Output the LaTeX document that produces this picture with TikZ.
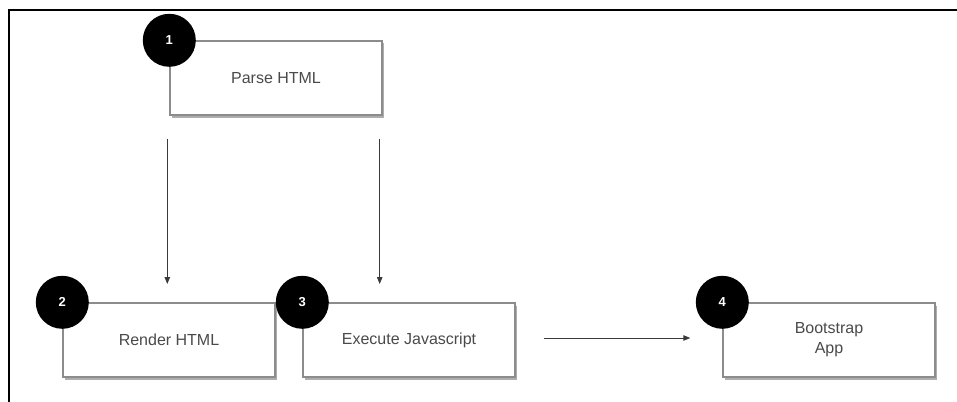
\documentclass[tikz,border=0pt]{standalone}
\usepackage{fontspec}
\setmainfont{Liberation Sans}
\usetikzlibrary{shadows,arrows.meta,calc}
\definecolor{edge}{HTML}{8C8C8C}
\definecolor{ink}{HTML}{3A3A3A}
\definecolor{label}{HTML}{4A4A4A}
\tikzset{
  stagebox/.style={draw=edge, line width=1.4pt, fill=white,
    minimum width=212pt, minimum height=74pt, inner sep=0pt,
    align=center, text=label, font=\fontsize{16}{20}\selectfont,
    drop shadow={shadow xshift=1.5pt, shadow yshift=-2.5pt, opacity=0.45, fill=black!70}},
  badge/.style={circle, fill=black, minimum size=53pt, inner sep=0pt,
    text=white, font=\fontsize{13}{14}\selectfont\bfseries},
  flow/.style={draw=ink, line width=0.9pt, -{Triangle[length=7pt,width=5.5pt]}},
}
\begin{document}
\begin{tikzpicture}[x=1pt,y=-1pt]
  \useasboundingbox (0,0) rectangle (957,401);
  % page frame, open at the right and bottom
  \draw[line width=2.6pt, line cap=rect] (9,401) -- (9,10) -- (957,10);

  % stages
  \node[stagebox] (parse)  at (276,78)  {Parse HTML};
  \node[stagebox] (render) at (169,340) {Render HTML};
  \node[stagebox] (exec)   at (409,340) {Execute Javascript};
  \node[stagebox] (boot)   at (829,340) {Bootstrap\\App};

  % numbered badges on the top-left corners
  \node[badge] (b1) at (parse.north west)  {1};
  \node[badge] (b2) at (render.north west) {2};
  \node[badge] (b3) at (exec.north west)   {3};
  \node[badge] (b4) at (boot.north west)   {4};

  % connectors
  \coordinate (s1) at ($(parse.south west)+(-2,23)$);
  \coordinate (s2) at ($(parse.south east)+(-3,23)$);
  \draw[flow] (s1) -- (s1 |- 0,284);
  \draw[flow] (s2) -- (s2 |- 0,284);
  \draw[flow] ($(exec.east)+(28,-2)$) -- ($(boot.west)+(-32,-2)$);
\end{tikzpicture}
\end{document}
